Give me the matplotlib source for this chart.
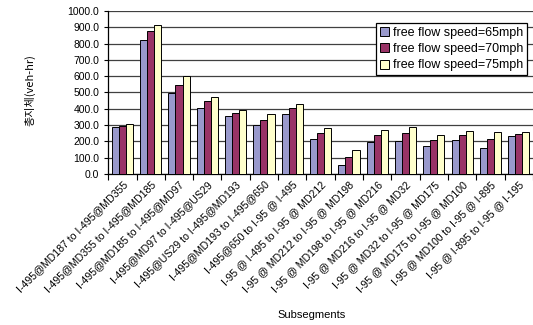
import numpy as np
from matplotlib import pyplot as plt

구간 = ["I-495@MD187 to I-495@MD355", "I-495@MD355 to I-495@MD185",
        "I-495@MD185 to I-495@MD97", "I-495@MD97 to I-495@US29",
        "I-495@US29 to I-495@MD193", "I-495@MD193 to I-495@650",
        "I-495@650 to I-95 @ I-495", "I-95 @ I-495 to I-95 @ MD212",
        "I-95 @ MD212 to I-95 @ MD198", "I-95 @ MD198 to I-95 @ MD216",
        "I-95 @ MD216 to I-95 @ MD32", "I-95 @ MD32 to I-95 @ MD175",
        "I-95 @ MD175 to I-95 @ MD100", "I-95 @ MD100 to I-95 @ I-895",
        "I-95 @ I-895 to I-95 @ I-195"]

ffs65 = [285, 820, 495, 405, 355, 300, 370, 215, 55, 195, 200, 170, 208, 158, 232]
ffs70 = [295, 875, 545, 445, 375, 330, 405, 250, 102, 237, 250, 210, 238, 212, 243]
ffs75 = [305, 915, 600, 475, 390, 365, 430, 280, 145, 272, 290, 240, 263, 257, 256]

시리즈 = ["free flow speed=65mph", "free flow speed=70mph", "free flow speed=75mph"]
색 = ["#9999CC", "#993366", "#FFFFCC"]

plt.rcParams['font.family'] = ['Liberation Sans', 'DejaVu Sans']

figura = plt.figure(figsize=(5.33, 3.25), dpi=100)
ax = figura.add_axes([0.203, 0.465, 0.797, 0.501])

x = np.arange(len(구간))
w = 0.25
for i, (vals, name, c) in enumerate(zip([ffs65, ffs70, ffs75], 시리즈, 색)):
    ax.bar(x + (i - 1) * w, vals, w, color=c, edgecolor="black", linewidth=0.7,
           label=name, zorder=3)

ax.set_xlim(-0.5, len(구간) - 0.5)
ax.set_ylim(0, 1000)
ax.set_yticks(np.arange(0, 1001, 100))
ax.set_yticklabels(["%.1f" % v for v in np.arange(0, 1001, 100)], fontsize=7.5)
ax.yaxis.grid(True, color="#404040", linewidth=0.9, zorder=0)

ax.set_xticks(x)
ax.set_xticklabels(구간, rotation=45, ha="right", rotation_mode="anchor", fontsize=7.6)
ax.tick_params(axis="x", length=0, pad=4)
ax.set_xticks(np.arange(-0.5, len(구간), 1), minor=True)
ax.tick_params(axis="x", which="minor", length=4, direction="out", width=0.8)
ax.tick_params(axis="y", length=3, direction="out", width=0.8)

for s in ["top", "right"]:
    ax.spines[s].set_visible(False)
ax.spines["left"].set_linewidth(0.9)
ax.spines["bottom"].set_linewidth(0.9)

figura.text(312 / 533, 1 - 315 / 325, "Subsegments", fontsize=8, ha="center", va="center")
figura.text(30 / 533, 1 - 90 / 325, "총지체(veh-hr)", fontsize=8, rotation=90,
            ha="center", va="center", family=['Noto Sans CJK KR', 'DejaVu Sans'])

leg = ax.legend(loc="upper right", bbox_to_anchor=(1.0, 0.965), fontsize=9,
                fancybox=False, edgecolor="black", framealpha=1,
                handlelength=0.75, handleheight=0.75, handletextpad=0.3,
                borderpad=0.3, labelspacing=0.35)
leg.get_frame().set_linewidth(0.9)

figura.savefig("out.png", dpi=100)
